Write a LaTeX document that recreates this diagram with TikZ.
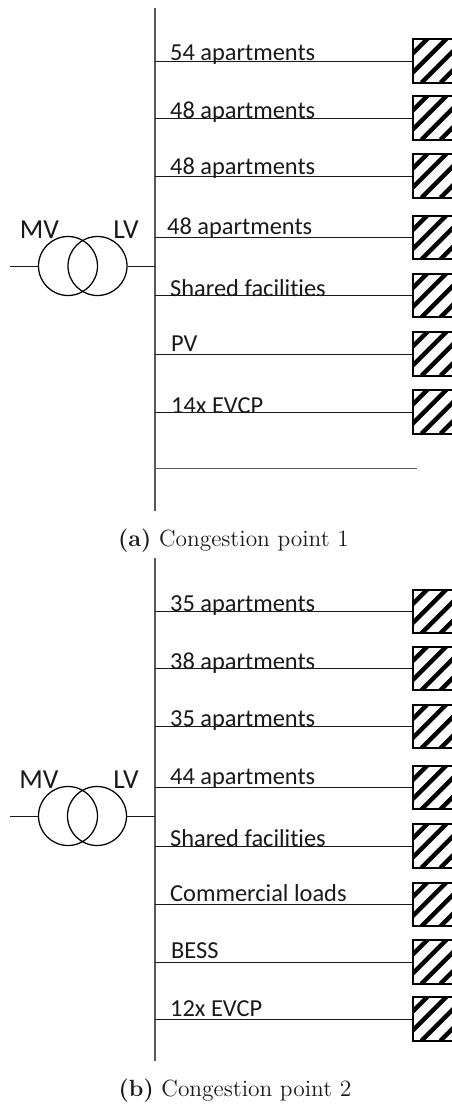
\documentclass[tikz,border=0pt]{standalone}
\usepackage{fontspec}
\newfontfamily\calib[Ligatures=NoCommon]{Carlito}
\tikzset{
  x=1pt,y=-1pt,
  wire/.style={draw=black!90,line width=0.9pt},
  busbar/.style={draw=black!65,line width=1.1pt},
  coil/.style={draw=black,line width=1.25pt,circle,minimum size=59pt,inner sep=0pt},
  lab/.style={font=\calib\fontsize{24.4}{28}\selectfont,inner sep=0pt,anchor=base west,text=black!90},
  hv/.style={font=\calib\fontsize{27.5}{30}\selectfont,inner sep=0pt,anchor=base,text=black!90},
  captext/.style={font=\fontsize{12}{15}\selectfont,inner sep=0pt,anchor=base,text=black!90,scale=1.95,transform shape},
  meter/.style={draw=black,line width=2pt,minimum width=44pt,minimum height=43.5pt,inner sep=0pt,anchor=west,
    path picture={
      \foreach \d in {-48,-29,...,48}
        \draw[black,line width=4.5pt] ([xshift=\d pt]path picture bounding box.south west) -- ++(46pt,46pt);
    }},
}
\newcommand{\feeder}[5]{% name, y, label, label x, baseline
  \node[meter] (#1) at (411.5,#2) {};
  \coordinate (#1b) at (155,#2);
  \draw[wire] (#1b) -- (#1.west);
  \node[lab] (#1l) at (#4,#5+1) {#3};
}
\begin{document}
\begin{tikzpicture}
\useasboundingbox (0,0) rectangle (452,1105);
\clip (0,0) rectangle (452,1105);
% (a)
\coordinate (ta) at (155,8); \coordinate (ba) at (155,511);
\draw[busbar] (ta) -- (ba);
\feeder{a1}{61}{54 apartments}{170}{60}
\feeder{a2}{118}{48 apartments}{170}{117}
\feeder{a3}{176}{48 apartments}{170}{173.5}
\feeder{a4}{237.5}{48 apartments}{167}{233}
\feeder{a5}{295.5}{Shared facilities}{170}{295}
\feeder{a6}{354}{PV}{171}{350}
\feeder{a7}{412}{14x EVCP}{171}{412}
\coordinate (a8b) at (155,468.5); \coordinate (a8e) at (417,468.5);
\draw[busbar] (a8b) -- (a8e);
\node[coil] (amv) at (68,266) {};
\node[coil] (alv) at (97.5,266) {};
\coordinate (ain) at (10,266); \coordinate (aout) at (155,266);
\draw[wire] (ain) -- (amv.west);
\draw[wire] (alv.east) -- (aout);
\node[hv] (amvl) at (39.5,238) {MV};
\node[hv] (alvl) at (126,238) {LV};
\node[captext] (capa) at (233.5,546) {\textbf{(a)} Congestion point 1};
% (b)
\coordinate (tb) at (155,558); \coordinate (bb) at (155,1061);
\draw[busbar] (tb) -- (bb);
\feeder{b1}{611.5}{35 apartments}{170}{610}
\feeder{b2}{668.5}{38 apartments}{170}{668}
\feeder{b3}{726.5}{35 apartments}{170}{725}
\feeder{b4}{787.5}{44 apartments}{170}{783}
\feeder{b5}{846}{Shared facilities}{170}{845}
\feeder{b6}{904.5}{Commercial loads}{170}{900}
\feeder{b7}{962}{BESS}{171}{957}
\feeder{b8}{1019}{12x EVCP}{170}{1015}
\node[coil] (bmv) at (68,816) {};
\node[coil] (blv) at (97,816) {};
\coordinate (bin) at (10,816); \coordinate (bout) at (155,816);
\draw[wire] (bin) -- (bmv.west);
\draw[wire] (blv.east) -- (bout);
\node[hv] (bmvl) at (39,788) {MV};
\node[hv] (blvl) at (126,788) {LV};
\node[captext] (capb) at (235,1096.5) {\textbf{(b)} Congestion point 2};
\end{tikzpicture}
\end{document}
